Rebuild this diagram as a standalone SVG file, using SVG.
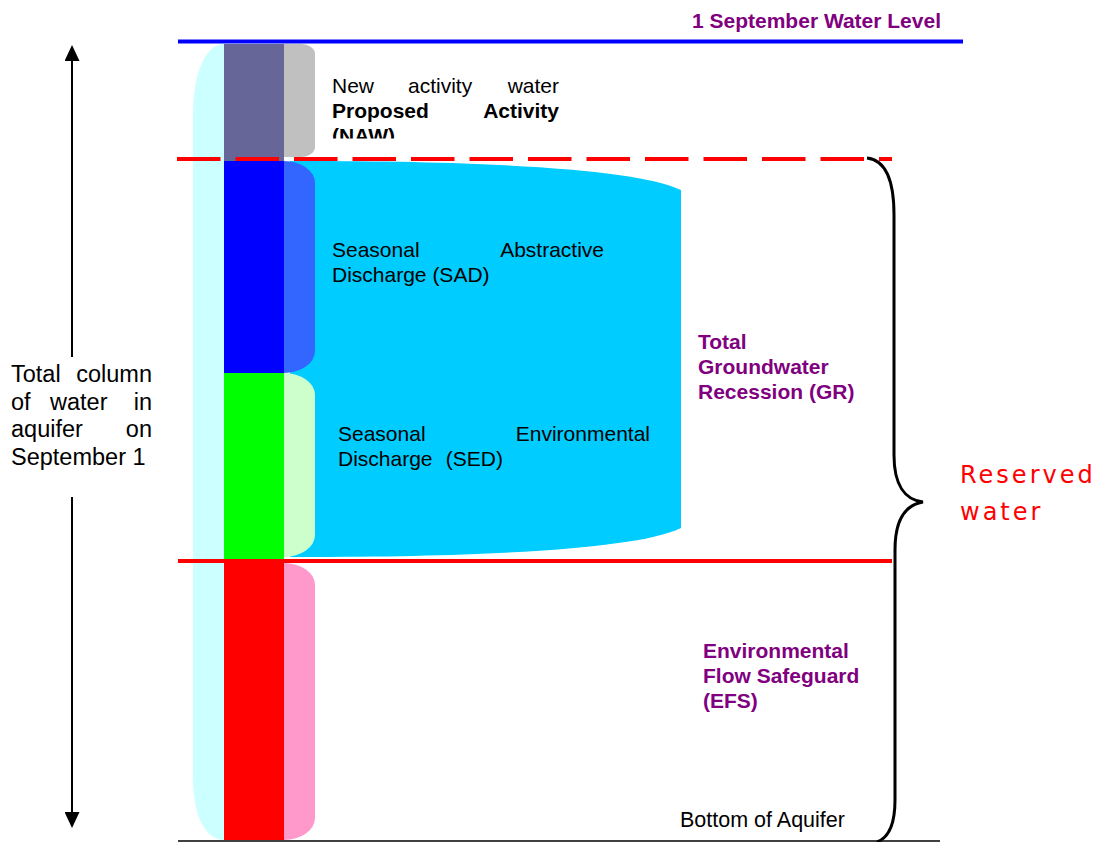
<svg xmlns="http://www.w3.org/2000/svg" width="1096" height="842" viewBox="0 0 1096 842">
<style>
.t{font-family:"Liberation Sans",Arial,sans-serif;font-size:21px;fill:#000}
.b{font-weight:bold}
.p{font-family:"Liberation Sans",Arial,sans-serif;font-size:21px;font-weight:bold;fill:#800080}
.lt{font-family:"Liberation Sans",Arial,sans-serif;font-size:23.5px;fill:#000}
.rw{font-family:"DejaVu Sans",Verdana,sans-serif;font-size:24px;fill:#FF0000;letter-spacing:3px}
.conn{fill:none;stroke:#000;stroke-width:2}
</style>
<defs>
<marker id="ah" markerUnits="userSpaceOnUse" viewBox="0 0 16 15" markerWidth="16" markerHeight="15" refX="11" refY="7.5" orient="auto">
<path d="M0 0 L16 7.5 L0 15 Z" fill="#000"/>
</marker>
<clipPath id="nawclip"><rect x="320" y="60" width="260" height="78.5"/></clipPath>
</defs>
<rect width="1096" height="842" fill="#fff"/>

<g id="groundwater-recession-shape">
<path d="M290 161 L300 161 C500 161 640 170 681 190 L681 528 C640 548 500 557 300 557 L290 557 Z" fill="#00CCFF"/>
</g>

<g id="aquifer-column">
<path d="M240 44 L240 840 L224 840 C205 840 193 815 193 777 L193 114 C193 75 205 44 224 44 Z" fill="#CCFFFF"/>
<rect x="250" y="44" width="65" height="113" rx="14" ry="10" fill="#C0C0C0"/>
<rect x="250" y="161" width="65" height="212" rx="31" ry="22" fill="#3366FF"/>
<rect x="250" y="373" width="65" height="184" rx="31" ry="22" fill="#CCFFCC"/>
<rect x="250" y="563" width="65" height="277" rx="31" ry="22" fill="#FF99CC"/>
<rect x="224" y="44" width="60" height="117" fill="#666699"/>
<rect x="224" y="161" width="60" height="212" fill="#0000FF"/>
<rect x="224" y="373" width="60" height="186" fill="#00FF00"/>
<rect x="224" y="559" width="60" height="281" fill="#FF0000"/>
</g>

<g id="levels">
<line x1="178" y1="41.5" x2="963" y2="41.5" stroke="#0000FF" stroke-width="4"/>
<line x1="177" y1="159" x2="892" y2="159" stroke="#FF0000" stroke-width="4" stroke-dasharray="43.5 15"/>
<line x1="178" y1="561" x2="892" y2="561" stroke="#FF0000" stroke-width="4"/>
<line x1="178" y1="841" x2="940" y2="841" stroke="#000" stroke-width="1.5"/>
</g>

<g id="water-level">
<text class="p" x="692" y="28">1 September Water Level</text>
</g>

<g id="naw" clip-path="url(#nawclip)">
<text class="t" y="93"><tspan x="332">New</tspan><tspan x="408">activity</tspan><tspan x="559" text-anchor="end">water</tspan></text>
<text class="t b" y="118"><tspan x="332">Proposed</tspan><tspan x="559" text-anchor="end">Activity</tspan></text>
<text class="t b" x="332" y="143">(NAW)</text>
</g>

<g id="sad">
<text class="t" y="257"><tspan x="332">Seasonal</tspan><tspan x="604" text-anchor="end">Abstractive</tspan></text>
<text class="t" x="332" y="282">Discharge (SAD)</text>
</g>

<g id="sed">
<text class="t" y="441"><tspan x="338">Seasonal</tspan><tspan x="650" text-anchor="end">Environmental</tspan></text>
<text class="t" y="466"><tspan x="338">Discharge</tspan><tspan x="503" text-anchor="end">(SED)</tspan></text>
</g>

<g id="gr">
<text class="p" x="698" y="349">Total</text>
<text class="p" x="698" y="374">Groundwater</text>
<text class="p" x="698" y="399">Recession (GR)</text>
</g>

<g id="efs">
<text class="p" x="703" y="658">Environmental</text>
<text class="p" x="703" y="683">Flow Safeguard</text>
<text class="p" x="703" y="708">(EFS)</text>
</g>

<g id="bottom">
<text class="t" style="font-size:21.5px" x="680" y="827">Bottom of Aquifer</text>
</g>

<g id="column-total">
<text class="lt" y="382"><tspan x="11">Total</tspan><tspan x="152" text-anchor="end">column</tspan></text>
<text class="lt" y="410"><tspan x="11">of</tspan><tspan x="50">water</tspan><tspan x="152" text-anchor="end">in</tspan></text>
<text class="lt" y="437"><tspan x="11">aquifer</tspan><tspan x="152" text-anchor="end">on</tspan></text>
<text class="lt" x="11" y="465">September 1</text>
</g>

<g id="reserved">
<text class="rw" x="960" y="483">Reserved</text>
<text class="rw" x="960" y="520">water</text>
</g>

<g id="connectors">
<line class="conn" x1="72" y1="357" x2="72" y2="50" marker-end="url(#ah)"/>
<line class="conn" x1="72" y1="497" x2="72" y2="823" marker-end="url(#ah)"/>
<path class="conn" style="stroke-width:3" d="M867 158 C885 160 894 180 894 215 L894 455 C894 485 905 500 923 502 C905 505 895 520 895 550 L895 800 C895 825 888 838 877 842"/>
</g>
</svg>
